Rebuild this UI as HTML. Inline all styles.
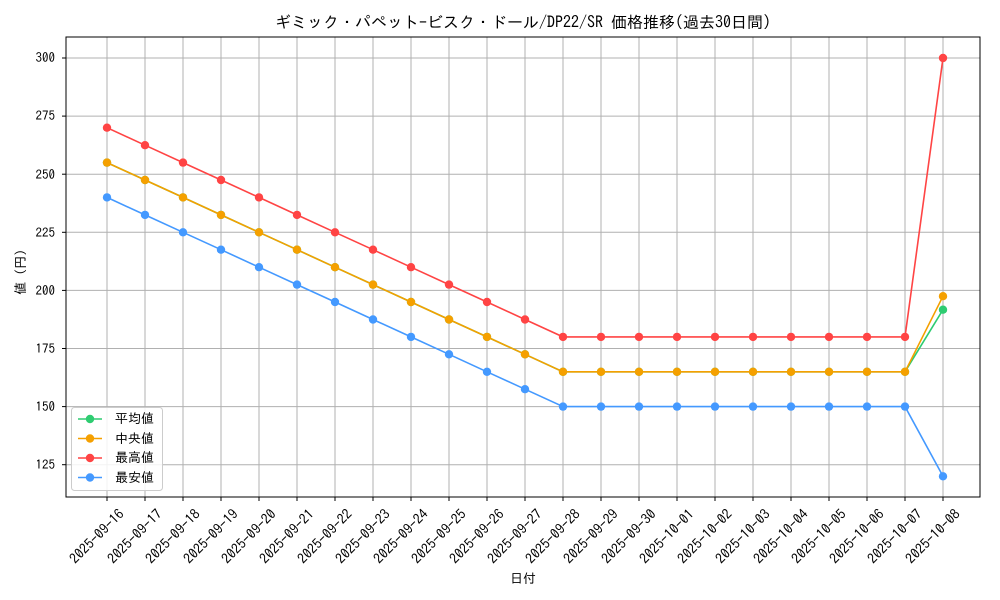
<!DOCTYPE html>
<html><head><meta charset="utf-8"><style>body{margin:0;background:#fff}svg{display:block}text{font-family:"IPAGothic","Liberation Sans",sans-serif;fill:#000}</style></head>
<body>
<svg width="1000" height="600" viewBox="0 0 1000 600">
<defs>
<marker id="mg" markerUnits="userSpaceOnUse" markerWidth="10" markerHeight="10" refX="5" refY="5"><circle cx="5" cy="5" r="4.2" fill="#2ecc71"/></marker>
<marker id="mo" markerUnits="userSpaceOnUse" markerWidth="10" markerHeight="10" refX="5" refY="5"><circle cx="5" cy="5" r="4.2" fill="#f5a000"/></marker>
<marker id="mr" markerUnits="userSpaceOnUse" markerWidth="10" markerHeight="10" refX="5" refY="5"><circle cx="5" cy="5" r="4.2" fill="#ff4444"/></marker>
<marker id="mb" markerUnits="userSpaceOnUse" markerWidth="10" markerHeight="10" refX="5" refY="5"><circle cx="5" cy="5" r="4.2" fill="#4499ff"/></marker>
</defs>
<rect width="1000" height="600" fill="#fff"/>
<g stroke="#b0b0b0" stroke-width="1">
<line x1="107" y1="37" x2="107" y2="497"/><line x1="145" y1="37" x2="145" y2="497"/><line x1="183" y1="37" x2="183" y2="497"/><line x1="221" y1="37" x2="221" y2="497"/><line x1="259" y1="37" x2="259" y2="497"/><line x1="297" y1="37" x2="297" y2="497"/><line x1="335" y1="37" x2="335" y2="497"/><line x1="373" y1="37" x2="373" y2="497"/><line x1="411" y1="37" x2="411" y2="497"/><line x1="449" y1="37" x2="449" y2="497"/><line x1="487" y1="37" x2="487" y2="497"/><line x1="525" y1="37" x2="525" y2="497"/><line x1="563" y1="37" x2="563" y2="497"/><line x1="601" y1="37" x2="601" y2="497"/><line x1="639" y1="37" x2="639" y2="497"/><line x1="677" y1="37" x2="677" y2="497"/><line x1="715" y1="37" x2="715" y2="497"/><line x1="753" y1="37" x2="753" y2="497"/><line x1="791" y1="37" x2="791" y2="497"/><line x1="829" y1="37" x2="829" y2="497"/><line x1="867" y1="37" x2="867" y2="497"/><line x1="905" y1="37" x2="905" y2="497"/><line x1="943" y1="37" x2="943" y2="497"/>
<line x1="66" y1="464.7" x2="980" y2="464.7"/><line x1="66" y1="406.6" x2="980" y2="406.6"/><line x1="66" y1="348.5" x2="980" y2="348.5"/><line x1="66" y1="290.4" x2="980" y2="290.4"/><line x1="66" y1="232.3" x2="980" y2="232.3"/><line x1="66" y1="174.2" x2="980" y2="174.2"/><line x1="66" y1="116.1" x2="980" y2="116.1"/><line x1="66" y1="58" x2="980" y2="58"/>
</g>
<rect x="66" y="37" width="914" height="460" fill="none" stroke="#000" stroke-width="1"/>
<g font-size="13" text-anchor="end">
<text x="55" y="469">125</text><text x="55" y="411">150</text><text x="55" y="353">175</text><text x="55" y="295">200</text><text x="55" y="237">225</text><text x="55" y="179">250</text><text x="55" y="120">275</text><text x="55" y="62">300</text>
</g>
<g stroke="#000"><line x1="62" y1="464.7" x2="66" y2="464.7"/><line x1="62" y1="406.6" x2="66" y2="406.6"/><line x1="62" y1="348.5" x2="66" y2="348.5"/><line x1="62" y1="290.4" x2="66" y2="290.4"/><line x1="62" y1="232.3" x2="66" y2="232.3"/><line x1="62" y1="174.2" x2="66" y2="174.2"/><line x1="62" y1="116.1" x2="66" y2="116.1"/><line x1="62" y1="58" x2="66" y2="58"/>
<line x1="107" y1="497" x2="107" y2="501"/><line x1="145" y1="497" x2="145" y2="501"/><line x1="183" y1="497" x2="183" y2="501"/><line x1="221" y1="497" x2="221" y2="501"/><line x1="259" y1="497" x2="259" y2="501"/><line x1="297" y1="497" x2="297" y2="501"/><line x1="335" y1="497" x2="335" y2="501"/><line x1="373" y1="497" x2="373" y2="501"/><line x1="411" y1="497" x2="411" y2="501"/><line x1="449" y1="497" x2="449" y2="501"/><line x1="487" y1="497" x2="487" y2="501"/><line x1="525" y1="497" x2="525" y2="501"/><line x1="563" y1="497" x2="563" y2="501"/><line x1="601" y1="497" x2="601" y2="501"/><line x1="639" y1="497" x2="639" y2="501"/><line x1="677" y1="497" x2="677" y2="501"/><line x1="715" y1="497" x2="715" y2="501"/><line x1="753" y1="497" x2="753" y2="501"/><line x1="791" y1="497" x2="791" y2="501"/><line x1="829" y1="497" x2="829" y2="501"/><line x1="867" y1="497" x2="867" y2="501"/><line x1="905" y1="497" x2="905" y2="501"/><line x1="943" y1="497" x2="943" y2="501"/></g>
<g font-size="14" text-anchor="end">
<text transform="translate(125,515) rotate(-45)">2025-09-16</text><text transform="translate(163,515) rotate(-45)">2025-09-17</text><text transform="translate(201,515) rotate(-45)">2025-09-18</text><text transform="translate(239,515) rotate(-45)">2025-09-19</text><text transform="translate(277,515) rotate(-45)">2025-09-20</text><text transform="translate(315,515) rotate(-45)">2025-09-21</text><text transform="translate(353,515) rotate(-45)">2025-09-22</text><text transform="translate(391,515) rotate(-45)">2025-09-23</text><text transform="translate(429,515) rotate(-45)">2025-09-24</text><text transform="translate(467,515) rotate(-45)">2025-09-25</text><text transform="translate(505,515) rotate(-45)">2025-09-26</text><text transform="translate(543,515) rotate(-45)">2025-09-27</text><text transform="translate(581,515) rotate(-45)">2025-09-28</text><text transform="translate(619,515) rotate(-45)">2025-09-29</text><text transform="translate(657,515) rotate(-45)">2025-09-30</text><text transform="translate(695,515) rotate(-45)">2025-10-01</text><text transform="translate(733,515) rotate(-45)">2025-10-02</text><text transform="translate(771,515) rotate(-45)">2025-10-03</text><text transform="translate(809,515) rotate(-45)">2025-10-04</text><text transform="translate(847,515) rotate(-45)">2025-10-05</text><text transform="translate(885,515) rotate(-45)">2025-10-06</text><text transform="translate(923,515) rotate(-45)">2025-10-07</text><text transform="translate(961,515) rotate(-45)">2025-10-08</text>
</g>
<text x="523" y="583" font-size="13" text-anchor="middle">日付</text>
<text transform="translate(25,272) rotate(-90)" font-size="13" text-anchor="middle">値 (円)</text>
<text x="523" y="28" font-size="16" text-anchor="middle">ギミック・パペット-ビスク・ドール/DP22/SR 価格推移(過去30日間)</text>
<g fill="none" stroke-width="1.6">
<polyline stroke="#2ecc71" marker-start="url(#mg)" marker-mid="url(#mg)" marker-end="url(#mg)" points="107,162.6 145,180 183,197.4 221,214.9 259,232.3 297,249.7 335,267.2 373,284.6 411,302 449,319.5 487,336.9 525,354.3 563,371.8 601,371.8 639,371.8 677,371.8 715,371.8 753,371.8 791,371.8 829,371.8 867,371.8 905,371.8 943,309.7"/>
<polyline stroke="#f5a000" marker-start="url(#mo)" marker-mid="url(#mo)" marker-end="url(#mo)" points="107,162.6 145,180 183,197.4 221,214.9 259,232.3 297,249.7 335,267.2 373,284.6 411,302 449,319.5 487,336.9 525,354.3 563,371.8 601,371.8 639,371.8 677,371.8 715,371.8 753,371.8 791,371.8 829,371.8 867,371.8 905,371.8 943,296.2"/>
<polyline stroke="#ff4444" marker-start="url(#mr)" marker-mid="url(#mr)" marker-end="url(#mr)" points="107,127.7 145,145.2 183,162.6 221,180 259,197.4 297,214.9 335,232.3 373,249.7 411,267.2 449,284.6 487,302 525,319.5 563,336.9 601,336.9 639,336.9 677,336.9 715,336.9 753,336.9 791,336.9 829,336.9 867,336.9 905,336.9 943,58"/>
<polyline stroke="#4499ff" marker-start="url(#mb)" marker-mid="url(#mb)" marker-end="url(#mb)" points="107,197.4 145,214.9 183,232.3 221,249.7 259,267.2 297,284.6 335,302 373,319.5 411,336.9 449,354.3 487,371.8 525,389.2 563,406.6 601,406.6 639,406.6 677,406.6 715,406.6 753,406.6 791,406.6 829,406.6 867,406.6 905,406.6 943,476.3"/>
</g>
<rect x="71.5" y="407.5" width="91" height="83" rx="3" fill="#fff" fill-opacity="0.85" stroke="#ccc"/>
<g stroke-width="1.6">
<line x1="78" y1="419" x2="102" y2="419" stroke="#2ecc71"/><circle cx="90" cy="419" r="4.2" fill="#2ecc71"/>
<line x1="78" y1="438.5" x2="102" y2="438.5" stroke="#f5a000"/><circle cx="90" cy="438.5" r="4.2" fill="#f5a000"/>
<line x1="78" y1="458" x2="102" y2="458" stroke="#ff4444"/><circle cx="90" cy="458" r="4.2" fill="#ff4444"/>
<line x1="78" y1="477.5" x2="102" y2="477.5" stroke="#4499ff"/><circle cx="90" cy="477.5" r="4.2" fill="#4499ff"/>
</g>
<g font-size="13"><text x="115" y="423">平均値</text><text x="115" y="443">中央値</text><text x="115" y="462">最高値</text><text x="115" y="482">最安値</text></g>
</svg>
</body></html>
